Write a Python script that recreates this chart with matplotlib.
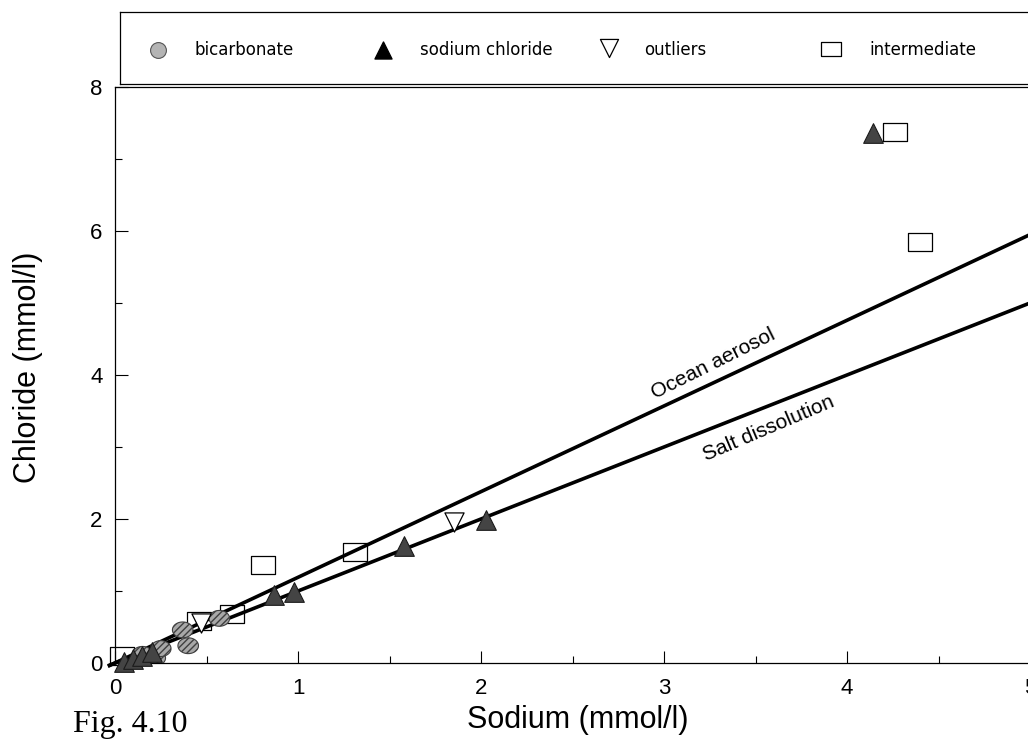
import numpy as np
import matplotlib
matplotlib.use("Agg")
import matplotlib.pyplot as plt

plt.rcParams["font.family"] = ["Liberation Sans", "DejaVu Sans"]

# data (mmol/l)
bicarb_na = [0.22, 0.25, 0.37, 0.40, 0.57, 0.15]
bicarb_cl = [0.07, 0.20, 0.46, 0.24, 0.62, 0.12]

nacl_na = [0.05, 0.10, 0.15, 0.20, 0.87, 0.98, 1.58, 2.03, 4.14]
nacl_cl = [0.02, 0.06, 0.10, 0.15, 0.94, 0.99, 1.62, 1.98, 7.36]

outlier_na = [0.47, 1.85]
outlier_cl = [0.56, 1.96]

inter_na = [0.04, 0.46, 0.64, 0.81, 1.31, 4.26, 4.40]
inter_cl = [0.10, 0.58, 0.68, 1.36, 1.54, 7.37, 5.85]

line_x = [-0.03, 5.05]
ocean_slope = 1.19
salt_slope = 1.0

ellipse = [(1.3 * np.cos(t), np.sin(t)) for t in np.linspace(0, 2 * np.pi, 40)]
box = [(-1.4, -1), (1.4, -1), (1.4, 1), (-1.4, 1), (-1.4, -1)]

fig = plt.figure(figsize=(10.28, 7.4), dpi=100)
ax = fig.add_axes([115 / 1028, 1 - 663 / 740, 915 / 1028, 576 / 740])

ax.scatter(inter_na, inter_cl, marker=box, s=300, facecolor="white",
           edgecolor="black", linewidth=0.9, zorder=1, clip_on=False)
ax.plot(line_x, [ocean_slope * v for v in line_x], color="black", lw=2.6,
        zorder=2, clip_on=False)
ax.plot(line_x, [salt_slope * v for v in line_x], color="black", lw=2.6,
        zorder=2, clip_on=False)
ax.scatter(bicarb_na, bicarb_cl, marker=ellipse, s=220, facecolor="#a8a8a8",
           edgecolor="#404040", hatch="/////", linewidth=0.8, zorder=3)
ax.scatter(outlier_na, outlier_cl, marker="v", s=190, facecolor="white",
           edgecolor="black", linewidth=0.9, zorder=3)
ax.scatter(nacl_na, nacl_cl, marker="^", s=200, facecolor="#444444",
           edgecolor="#1a1a1a", linewidth=0.8, zorder=4, clip_on=False)

ax.text(3.27, 4.15, "Ocean aerosol", rotation=26.5, ha="center", va="center",
        fontsize=15)
ax.text(3.57, 3.26, "Salt dissolution", rotation=23, ha="center", va="center",
        fontsize=15)

ax.set_xlim(0, 5)
ax.set_ylim(0, 8)
ax.set_xticks(np.arange(0, 6, 1))
ax.set_xticks(np.arange(0.5, 5, 1), minor=True)
ax.set_yticks(np.arange(0, 9, 2))
ax.set_yticks(np.arange(1, 8, 2), minor=True)
ax.tick_params(which="both", direction="in", top=False, right=False,
               labelsize=16, width=0.8)
ax.tick_params(which="major", length=9)
ax.tick_params(axis="x", which="major", pad=11)
ax.tick_params(axis="y", which="major", pad=9)
ax.tick_params(which="minor", length=5)
ax.spines["right"].set_visible(False)
for s in ["left", "bottom", "top"]:
    ax.spines[s].set_linewidth(0.9)

ax.set_xlabel("Sodium (mmol/l)", fontsize=22)
ax.set_ylabel("Chloride (mmol/l)", fontsize=22)
ax.xaxis.set_label_coords(0.506, -0.073)
ax.yaxis.set_label_coords(-0.079, 0.514)

fig.text(73 / 1028, 1 - 732 / 740, "Fig. 4.10", fontsize=23,
         family="Liberation Serif", va="baseline", ha="left")

# legend box across the top
leg = fig.add_axes([120 / 1028, 1 - 84 / 740, 920 / 1028, 72 / 740])
leg.set_xlim(120, 1040)
leg.set_ylim(84, 12)
leg.set_xticks([])
leg.set_yticks([])
for s in leg.spines.values():
    s.set_linewidth(0.9)
leg.scatter([158], [50], marker="o", s=130, facecolor="#b4b4b4",
            edgecolor="#555555", linewidth=0.8)
leg.scatter([383], [50], marker="^", s=150, color="black")
leg.scatter([609], [48], marker="v", s=170, facecolor="white",
            edgecolor="black", linewidth=0.9)
leg.scatter([831], [49], marker=box, s=190, facecolor="white",
            edgecolor="black", linewidth=0.9)
for xpos, label in [(195, "bicarbonate"), (420, "sodium chloride"),
                    (644, "outliers"), (869, "intermediate")]:
    leg.text(xpos, 50, label, fontsize=12, family="DejaVu Sans",
             va="center", ha="left")

fig.savefig("out.png", dpi=100)
